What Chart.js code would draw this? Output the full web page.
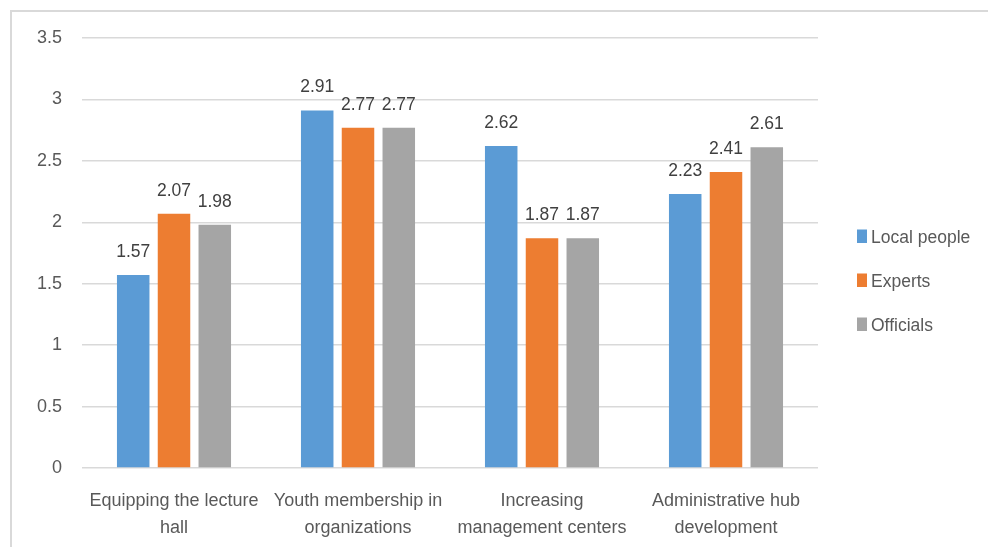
<!DOCTYPE html>
<html>
<head>
<meta charset="utf-8">
<script src="https://cdn.jsdelivr.net/npm/chart.js"></script>
<style>
  html, body { margin: 0; padding: 0; background: #ffffff; }
  canvas { display: block; }
</style>
</head>
<body>
<canvas id="chart" width="988" height="547"></canvas>
<script>
// Mean scores by group for each development factor
const categories = [
  ['Equipping the lecture', 'hall'],
  ['Youth membership in', 'organizations'],
  ['Increasing', 'management centers'],
  ['Administrative hub', 'development']
];
const seriesNames = ['Local people', 'Experts', 'Officials'];
const localPeople = [1.57, 2.91, 2.62, 2.23];
const experts     = [2.07, 2.77, 1.87, 2.41];
const officials   = [1.98, 2.77, 1.87, 2.61];
const yTickLabels = ['0', '0.5', '1', '1.5', '2', '2.5', '3', '3.5'];

const colors = ['#5b9bd5', '#ed7d31', '#a5a5a5'];
const FONT = '"Liberation Sans", Arial, sans-serif';

// Light outer frame around the chart
const framePlugin = {
  id: 'frame',
  beforeDraw(chart) {
    const ctx = chart.ctx;
    ctx.save();
    ctx.fillStyle = '#ffffff';
    ctx.fillRect(0, 0, chart.width, chart.height);
    ctx.strokeStyle = '#d9d9d9';
    ctx.lineWidth = 2;
    ctx.strokeRect(11, 11, chart.width + 40, chart.height + 40);
    ctx.restore();
  }
};

// Value labels above each bar
const valueLabels = {
  id: 'valueLabels',
  afterDatasetsDraw(chart) {
    const ctx = chart.ctx;
    ctx.save();
    ctx.font = '17.5px ' + FONT;
    ctx.fillStyle = '#404040';
    ctx.textAlign = 'center';
    ctx.textBaseline = 'alphabetic';
    chart.data.datasets.forEach((ds, di) => {
      chart.getDatasetMeta(di).data.forEach((bar, i) => {
        ctx.fillText(ds.data[i].toFixed(2), bar.x, bar.y - 18);
      });
    });
    ctx.restore();
  }
};

// Legend on the right with small square keys
const sideLegend = {
  id: 'sideLegend',
  afterDraw(chart) {
    const ctx = chart.ctx;
    const x = chart.chartArea.right + 39;
    const top = 229.5;
    const step = 44;
    ctx.save();
    ctx.font = '17.5px ' + FONT;
    ctx.textAlign = 'left';
    ctx.textBaseline = 'alphabetic';
    chart.data.datasets.forEach((ds, i) => {
      const y = top + i * step;
      ctx.fillStyle = ds.backgroundColor;
      ctx.fillRect(x, y, 10, 13.5);
      ctx.fillStyle = '#595959';
      ctx.fillText(ds.label, x + 14, y + 13.5);
    });
    ctx.restore();
  }
};

const seriesValues = [localPeople, experts, officials];

new Chart(document.getElementById('chart'), {
  type: 'bar',
  data: {
    labels: categories,
    datasets: seriesValues.map((vals, i) => ({
      label: seriesNames[i],
      data: vals,
      backgroundColor: colors[i],
      borderWidth: 0,
      categoryPercentage: 0.665,
      barPercentage: 0.797
    }))
  },
  options: {
    responsive: false,
    animation: false,
    devicePixelRatio: 1,
    layout: { padding: { top: 38, right: 170, bottom: 0, left: 10 } },
    plugins: {
      legend: { display: false },
      tooltip: { enabled: false }
    },
    scales: {
      y: {
        min: 0,
        max: 3.5,
        afterFit(scale) { scale.width = 72; },
        ticks: {
          stepSize: 0.5,
          padding: 20,
          color: '#595959',
          font: { family: FONT, size: 18 },
          callback: (v, i) => yTickLabels[i]
        },
        grid: { color: '#d9d9d9', lineWidth: 1.5, drawTicks: false },
        border: { display: false }
      },
      x: {
        afterFit(scale) { scale.height = 79; },
        ticks: {
          padding: 20,
          maxRotation: 0,
          autoSkip: false,
          color: '#595959',
          font: { family: FONT, size: 18, lineHeight: 1.5 }
        },
        grid: { display: false, drawTicks: false },
        border: { display: false }
      }
    }
  },
  plugins: [framePlugin, valueLabels, sideLegend]
});
</script>
</body>
</html>
